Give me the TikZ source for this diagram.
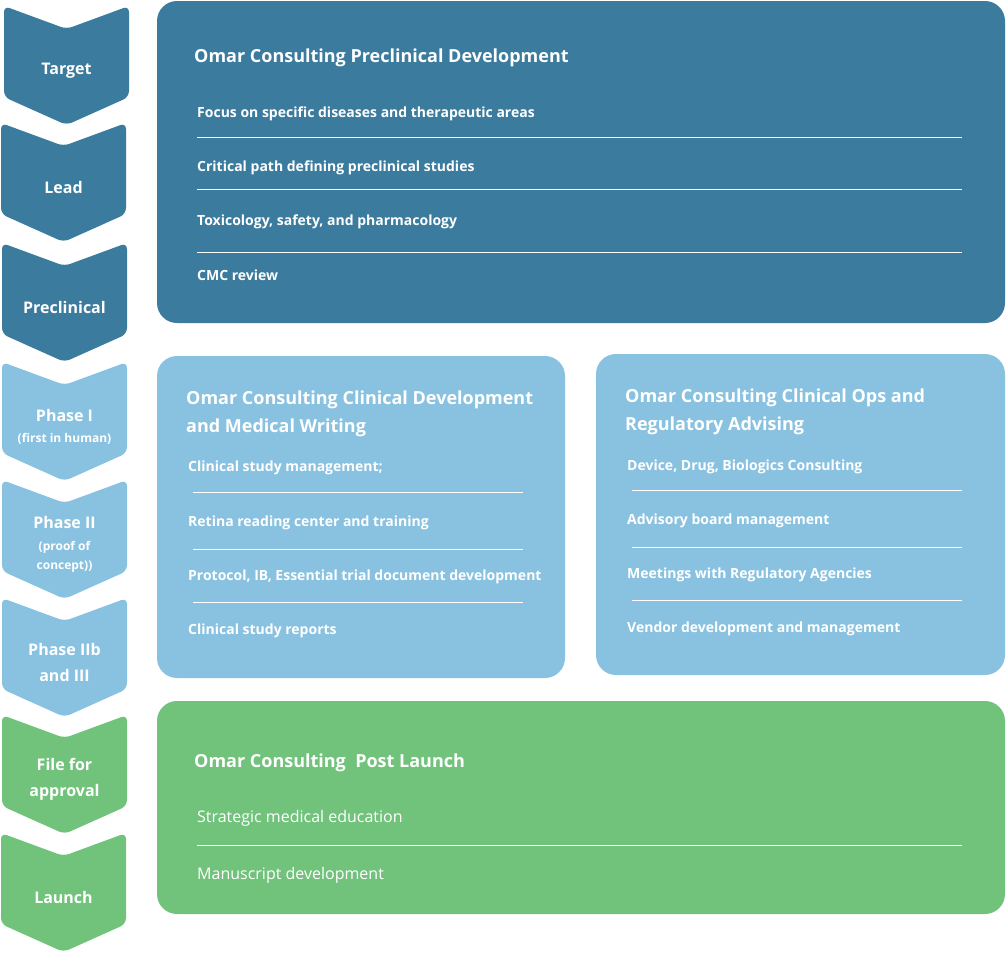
\documentclass[tikz,border=0pt]{standalone}
\usepackage{fontspec}
\setmainfont{Open Sans}
\definecolor{dkb}{HTML}{3B7B9E}
\definecolor{ltb}{HTML}{89C2E0}
\definecolor{grn}{HTML}{71C37C}
\newcommand\sm{\fontsize{12}{20}\selectfont}
\tikzset{
  ch/.style={rounded corners=6pt},
  bx/.style={rounded corners=20pt},
  lab/.style={text=white,font=\fontsize{16}{26}\selectfont\bfseries,align=center,inner sep=0pt,yshift=-0.5pt},
  ttl/.style={anchor=west,text=white,font=\fontsize{18}{28}\selectfont\bfseries,align=left,inner sep=0pt,yshift=-2.5pt},
  itm/.style={anchor=west,text=white,font=\fontsize{14}{16}\selectfont\bfseries,inner sep=0pt,yshift=-2.5pt},
  itr/.style={itm,font=\fontsize{16}{18}\selectfont},
  sep/.style={draw=white,line width=0.9pt},
}
\begin{document}
\begin{tikzpicture}[x=1pt,y=-1pt]
\useasboundingbox (0,0) rectangle (1006,953);
% stages down the left side
\foreach \x/\t/\c/\n/\l in {4/6/dkb/tgt/Target, 1/123/dkb/lead/Lead, 2/243/dkb/prec/Preclinical,
  2/362/ltb/ph1/Phase I\\[-5pt]\sm(first in human), 2/480/ltb/ph2/Phase II\\[-4pt]\sm(proof of\\[-7pt]\sm concept)),
  2/598/ltb/ph3/Phase IIb\\and III, 2/715/grn/file/File for\\approval, 1/833/grn/lch/Launch}{
  \fill[\c,ch] (\x,\t) -- (\x+62.5,\t+23) -- (\x+125,\t) -- (\x+125,\t+91) -- (\x+62.5,\t+119) -- (\x,\t+91) -- cycle;
  \node[lab] (\n) at (\x+62.5,\t+64) {\l};}
% preclinical
\fill[dkb,bx] (157,1) rectangle (1005,323);
\node[ttl] (preT) at (194,55) {Omar Consulting Preclinical Development};
\foreach \k/\y/\s in {1/111/Focus on specific diseases and therapeutic areas, 2/165/Critical path defining preclinical studies,
  {3/219/Toxicology, safety, and pharmacology}, 4/273/CMC review}
  \node[itm] (pre\k) at (197,\y) {\s};
\foreach \y in {137,189,252} \draw[sep] (197,\y) -- (962,\y);
% clinical development
\fill[ltb,bx] (157,356) rectangle (565,678);
\node[ttl] (cdT) at (186,411) {Omar Consulting Clinical Development\\and Medical Writing};
\foreach \k/\y/\s in {1/465/Clinical study management;, 2/520/Retina reading center and training,
  {3/574/Protocol, IB, Essential trial document development}, 4/628/Clinical study reports}
  \node[itm] (cd\k) at (188,\y) {\s};
\foreach \y in {492,549,602} \draw[sep] (193,\y) -- (523,\y);
% clinical ops
\fill[ltb,bx] (596,354) rectangle (1005,675);
\node[ttl] (opT) at (625,409) {Omar Consulting Clinical Ops and\\Regulatory Advising};
\foreach \k/\y/\s in {{1/464/Device, Drug, Biologics Consulting}, 2/518/Advisory board management,
  3/572/Meetings with Regulatory Agencies, 4/626/Vendor development and management}
  \node[itm] (op\k) at (627,\y) {\s};
\foreach \y in {490,547,600} \draw[sep] (632,\y) -- (962,\y);
% post launch
\fill[grn,bx] (157,701) rectangle (1005,914);
\node[ttl] (plT) at (194,760) {Omar Consulting\ \ Post Launch};
\node[itr] (pl1) at (197,816) {Strategic medical education};
\node[itr] (pl2) at (197,873) {Manuscript development};
\draw[sep] (197,845) -- (962,845);
\end{tikzpicture}
\end{document}
